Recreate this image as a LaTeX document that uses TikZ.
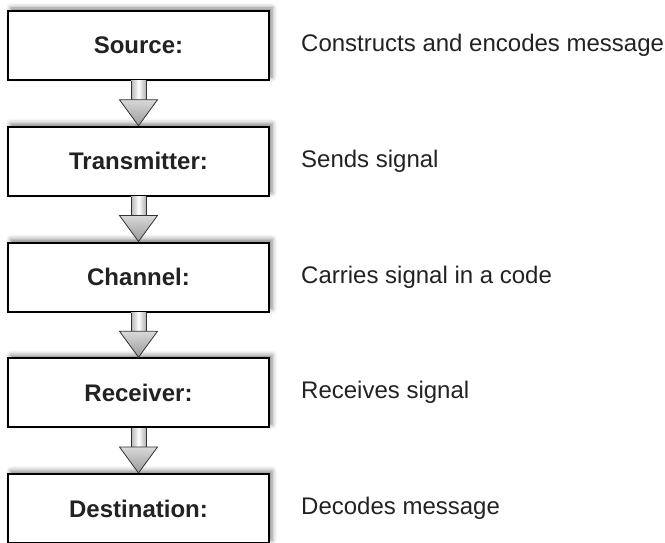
\documentclass[tikz,border=0pt]{standalone}
\usepackage{fontspec}
\setmainfont{Liberation Sans}
\usetikzlibrary{positioning,calc,shadows.blur}
\definecolor{ink}{HTML}{222222}

\begin{document}
\begin{tikzpicture}[x=1pt,y=-1pt,font=\fontsize{24}{28}\selectfont,text=ink,
box/.style={draw=black,line width=2pt,fill=white,minimum width=261pt,minimum height=69pt,
  font=\fontsize{24}{28}\selectfont\bfseries,
  blur shadow={shadow xshift=3pt,shadow yshift=3pt,shadow blur radius=5pt,shadow opacity=50}},
desc/.style={inner sep=0pt},
shaft/.style={left color=gray!60,right color=gray!60,middle color=white},
head/.style={top color=gray!30,bottom color=gray!80,draw=gray!40!black,line width=0.8pt}]
\useasboundingbox (0,0) rectangle (665,543);
\node[box] (src) at (138.5,45.5) {Source:};
\node[box,below=44.75pt of src] (trm) {Transmitter:};
\node[box,below=44.75pt of trm] (chn) {Channel:};
\node[box,below=44.75pt of chn] (rcv) {Receiver:};
\node[box,below=44.75pt of rcv] (dst) {Destination:};
\node[desc,right=31pt of src] (srcd) {Constructs and encodes message};
\node[desc,right=31pt of trm] (trmd) {Sends signal};
\node[desc,right=31pt of chn] (chnd) {Carries signal in a code};
\node[desc,right=31pt of rcv] (rcvd) {Receives signal};
\node[desc,right=31pt of dst] (dstd) {Decodes message};
% hollow arrows between the boxes
\foreach \a/\b in {src/trm,trm/chn,chn/rcv,rcv/dst} {
  \shade[shaft] ($(\a.south)+(-7.5,0)$) rectangle ($(\b.north)+(7.5,-26)$);
  \draw[gray!40!black,line width=0.8pt] ($(\a.south)+(-7.5,0)$) -- ($(\b.north)+(-7.5,-26)$)
    ($(\a.south)+(7.5,0)$) -- ($(\b.north)+(7.5,-26)$);
  \draw[head] ($(\b.north)+(-19,-26)$) -- (\b.north) -- ($(\b.north)+(19,-26)$) -- cycle;
}
\end{tikzpicture}
\end{document}
